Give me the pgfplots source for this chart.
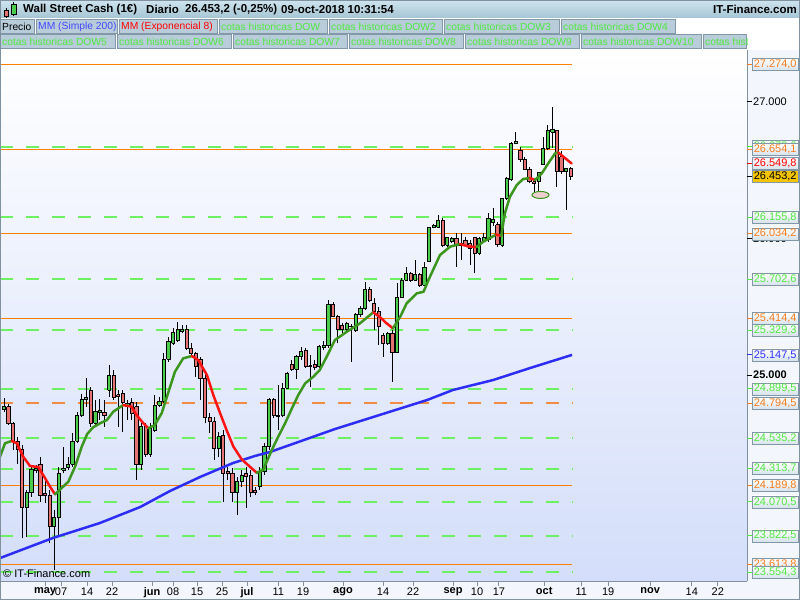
\documentclass[border=0pt]{standalone}
\usepackage{fontspec}
\setmainfont{Liberation Sans}
\usepackage{pgfplots}
\usepackage{pgfplotstable}
\pgfplotsset{compat=1.18}

\definecolor{candleup}{RGB}{76,204,76}
\definecolor{candledn}{RGB}{230,115,115}
\definecolor{emaup}{RGB}{60,150,30}
\definecolor{emadn}{RGB}{255,20,20}
\definecolor{smablue}{RGB}{45,45,245}
\definecolor{cotagreen}{RGB}{110,240,100}
\definecolor{cotaorange}{RGB}{255,128,0}
\definecolor{dashorange}{RGB}{240,140,70}
\definecolor{txtgreen}{RGB}{80,232,64}
\definecolor{txtorange}{RGB}{245,125,30}
\definecolor{txtred}{RGB}{255,0,0}
\definecolor{txtblue}{RGB}{50,50,255}
\definecolor{legblue}{RGB}{70,70,255}
\definecolor{framegray}{RGB}{128,146,160}
\definecolor{cellbg}{RGB}{184,205,217}
\definecolor{cellborder}{RGB}{130,152,168}
\definecolor{plotbottom}{RGB}{212,222,250}
\definecolor{panelbg}{RGB}{243,246,252}
\definecolor{pricebox}{RGB}{245,196,0}
\definecolor{boxbot}{RGB}{214,226,236}
\definecolor{titletop}{RGB}{206,228,238}
\definecolor{titlebot}{RGB}{166,197,212}
\definecolor{ellfill}{RGB}{236,206,206}

% daily candles, k = weekday index (k=9 is 1 May 2018)
\pgfplotstableread{
k O H L C
0 24748 24829 24731 24773
1 24768 24787 24634 24646
2 24646 24658 24450 24511
3 24511 24548 24348 24455
4 24455 24487 23803 24030
5 24030 24157 23815 24138
6 24138 24328 24108 24309
7 24299 24341 24279 24314
8 24345 24402 24072 24121
9 24133 24231 24060 24118
10 24121 24157 23767 23889
11 23889 24011 23570 23957
12 23957 24328 23815 24275
13 24304 24475 24279 24316
14 24321 24402 24304 24345
15 24345 24573 24328 24516
16 24516 24731 24499 24707
17 24707 24861 24695 24822
18 24817 24980 24768 24836
19 24890 24915 24621 24646
20 24646 24817 24634 24731
21 24729 24822 24670 24739
22 24729 24817 24621 24704
23 24890 25073 24841 25000
24 25000 25036 24817 24836
25 24856 24890 24621 24841
26 24861 24890 24585 24797
27 24768 24817 24670 24792
28 24797 24829 24670 24719
29 24768 24805 24231 24341
30 24341 24646 24304 24621
31 24621 24646 24402 24421
32 24421 24646 24402 24609
33 24597 24853 24585 24780
34 24780 24841 24768 24809
35 24805 25159 24792 25115
36 25115 25281 25098 25244
37 25232 25342 25220 25310
38 25256 25391 25244 25330
39 25317 25366 25305 25330
40 25330 25366 25183 25195
41 25195 25232 25134 25154
42 25154 25171 24988 25061
43 25110 25134 24817 24975
44 24975 25012 24646 24690
45 24690 24719 24573 24663
46 24658 24695 24377 24463
47 24463 24585 24402 24553
48 24560 24597 24072 24275
49 24292 24328 24231 24275
50 24279 24316 24072 24138
51 24138 24255 23974 24218
52 24218 24304 24182 24267
53 24279 24328 24023 24255
54 24267 24304 24108 24138
55 24157 24182 24121 24138
56 24182 24328 24157 24292
57 24292 24499 24267 24475
58 24475 24829 24450 24817
59 24817 24829 24683 24700
60 24695 24927 24597 24707
61 24700 24939 24690 24902
62 24902 25024 24902 25012
63 25078 25110 25032 25042
64 25042 25147 24968 25139
65 25139 25208 25110 25171
66 25176 25195 25049 25061
67 25068 25146 24914 25061
68 25078 25110 25036 25056
69 25061 25220 25049 25208
70 25200 25250 25185 25215
71 25215 25549 25195 25520
72 25520 25537 25422 25432
73 25432 25440 25232 25330
74 25366 25379 25305 25334
75 25334 25391 25325 25374
76 25354 25374 25098 25359
77 25325 25452 25317 25440
78 25440 25506 25427 25488
79 25488 25684 25476 25623
80 25623 25642 25537 25549
81 25525 25562 25330 25464
82 25464 25501 25220 25354
83 25293 25305 25134 25232
84 25232 25317 25220 25305
85 25305 25330 24951 25164
86 25164 25672 25159 25569
87 25569 25708 25562 25696
88 25696 25794 25691 25745
89 25745 25757 25684 25696
90 25696 25842 25691 25733
91 25733 25745 25647 25659
92 25659 25830 25652 25789
93 25830 26087 25830 26082
94 26082 26106 26075 26092
95 26082 26172 26075 26131
96 26131 26148 25940 25952
97 25952 26013 25940 26008
98 25977 26013 25965 26001
99 26001 26038 25794 25952
100 25952 26038 25842 25965
101 25989 26013 25940 25952
102 25965 25989 25806 25928
103 26008 26013 25745 25891
104 25891 26013 25879 26001
105 25977 26038 25970 26010
106 25994 26184 25977 26148
107 26120 26221 26095 26140
108 26099 26123 25940 25953
109 25952 26300 25940 26294
110 26294 26450 26285 26436
111 26429 26710 26420 26697
112 26697 26783 26692 26714
113 26648 26673 26563 26580
114 26580 26600 26502 26507
115 26507 26526 26404 26416
116 26416 26430 26343 26400
117 26416 26490 26343 26482
118 26539 26746 26539 26661
119 26661 26832 26648 26790
120 26778 26961 26660 26795
121 26790 26795 26380 26490
122 26600 26640 26470 26490
123 26490 26520 26209 26514
124 26514 26526 26429 26453
}\candles

\newcommand{\legcell}[5]{%
  \begin{scope}
    \clip (#1,#3-15) rectangle (#2,#3);
    \fill[cellbg] (#1,#3-15) rectangle (#2,#3);
    \draw[cellborder] (#1+0.5,#3-14.5) rectangle (#2-0.5,#3-0.5);
    \node[anchor=west, inner sep=0pt, text=#4, font=\fontsize{10.3}{12}\selectfont] at (#1+2,#3-7.5) {#5};
  \end{scope}}

\newcommand{\pricelabel}[3]{%
  \draw[#2, line width=1pt] (axis cs:162.58,#1) -- ++(5pt,0pt);
  \node[anchor=west, draw=cellborder, top color=white, bottom color=boxbot, text=#2,
    minimum width=46pt, minimum height=12pt, inner sep=0pt,
    font=\fontsize{11}{12}\selectfont] at ([xshift=5pt]axis cs:162.58,#1) {#3};}

\begin{document}
\begin{tikzpicture}[x=1pt, y=1pt]
\useasboundingbox (0,0) rectangle (800,600);
\fill[panelbg] (0,0) rectangle (800,600);

% title bar
\shade[top color=titletop, bottom color=titlebot] (0,582) rectangle (800,600);
\draw[framegray] (0,582) -- (800,582);
\draw[black, line width=0.8pt] (6,581) -- (6,592);
\fill[candledn, draw=black, line width=0.6pt] (4,583.5) rectangle (8.5,590);
\draw[black, line width=0.8pt] (13.5,584) -- (13.5,598);
\fill[candleup, draw=black, line width=0.6pt] (11.5,586) rectangle (16,596);
\begin{scope}[every node/.style={anchor=west, inner sep=0pt, font=\fontsize{11.5}{13}\selectfont\bfseries}]
  \node at (23,590.5) {Wall Street Cash (1€)};
  \node at (146,590.5) {Diario};
  \node at (185,590.5) {26.453,2 (-0,25\%)};
  \node at (281,590.5) {09-oct-2018 10:31:54};
  \node[anchor=east] at (797,590.5) {IT-Finance.com};
\end{scope}

% legend rows
\fill[white] (0,550) rectangle (800,582);
\legcell{0}{35}{581}{black}{Precio}
\legcell{36}{118}{581}{legblue}{MM (Simple 200)}
\legcell{119}{218}{581}{txtred}{MM (Exponencial 8)}
\legcell{219}{328}{581}{txtgreen}{cotas historicas DOW}
\legcell{329}{443}{581}{txtgreen}{cotas historicas DOW2}
\legcell{444}{560}{581}{txtgreen}{cotas historicas DOW3}
\legcell{561}{676}{581}{txtgreen}{cotas historicas DOW4}
\legcell{0}{116}{566}{txtgreen}{cotas historicas DOW5}
\legcell{117}{232}{566}{txtgreen}{cotas historicas DOW6}
\legcell{233}{348}{566}{txtgreen}{cotas historicas DOW7}
\legcell{349}{464}{566}{txtgreen}{cotas historicas DOW8}
\legcell{465}{580}{566}{txtgreen}{cotas historicas DOW9}
\legcell{581}{702}{566}{txtgreen}{cotas historicas DOW10}
\legcell{703}{747}{566}{txtgreen}{cotas historicas DOW11}

\begin{axis}[
  at={(0pt,19pt)}, anchor=south west,
  scale only axis, width=747pt, height=531pt,
  xmin=-0.88, xmax=162.58, ymin=23491, ymax=27381,
  clip=false,
  axis background/.style={top color=white, bottom color=plotbottom},
  axis x line*=bottom, axis y line*=right,
  axis line style={framegray, line width=1pt},
  ytick=\empty,
  xtick={8.97,12.47,18.16,23.63,32.39,36.98,42.23,47.7,53.17,60,65.43,74.18,82.93,89.5,98.25,103.5,108.3,118.2,126.3,132.2,141.4,150.5,156.2},
  xticklabels={\textbf{may},07,14,22,\textbf{jun},08,15,25,\textbf{jul},11,19,\textbf{ago},14,22,\textbf{sep},10,17,\textbf{oct},11,19,\textbf{nov},14,22},
  xtick align=outside, major tick length=5pt,
  x tick style={framegray, line width=1pt},
  xticklabel style={font=\fontsize{11}{13}\selectfont, inner sep=1.5pt},
]

% historical levels
\addplot[cotagreen, line width=2pt, dash pattern=on 13pt off 13pt] coordinates {(-0.88,26673.6) (124.3,26673.6)};
\addplot[cotagreen, line width=2pt, dash pattern=on 13pt off 13pt] coordinates {(-0.88,26155.8) (124.3,26155.8)};
\addplot[cotagreen, line width=2pt, dash pattern=on 13pt off 13pt] coordinates {(-0.88,25702.6) (124.3,25702.6)};
\addplot[cotagreen, line width=2pt, dash pattern=on 13pt off 13pt] coordinates {(-0.88,25329.3) (124.3,25329.3)};
\addplot[cotagreen, line width=2pt, dash pattern=on 13pt off 13pt] coordinates {(-0.88,24899.5) (124.3,24899.5)};
\addplot[cotagreen, line width=2pt, dash pattern=on 13pt off 13pt] coordinates {(-0.88,24535.2) (124.3,24535.2)};
\addplot[cotagreen, line width=2pt, dash pattern=on 13pt off 13pt] coordinates {(-0.88,24313.7) (124.3,24313.7)};
\addplot[cotagreen, line width=2pt, dash pattern=on 13pt off 13pt] coordinates {(-0.88,24070.5) (124.3,24070.5)};
\addplot[cotagreen, line width=2pt, dash pattern=on 13pt off 13pt] coordinates {(-0.88,23822.5) (124.3,23822.5)};
\addplot[cotagreen, line width=2pt, dash pattern=on 13pt off 13pt] coordinates {(-0.88,23554.3) (124.3,23554.3)};
\addplot[dashorange, line width=2pt, dash pattern=on 13pt off 13pt] coordinates {(-0.88,24794.5) (124.3,24794.5)};
\addplot[cotaorange, line width=1.15pt] coordinates {(-0.88,27274.0) (124.3,27274.0)};
\addplot[cotaorange, line width=1.15pt] coordinates {(-0.88,26654.1) (124.3,26654.1)};
\addplot[cotaorange, line width=1.15pt] coordinates {(-0.88,26034.2) (124.3,26034.2)};
\addplot[cotaorange, line width=1.15pt] coordinates {(-0.88,25414.4) (124.3,25414.4)};
\addplot[cotaorange, line width=1.15pt] coordinates {(-0.88,24189.8) (124.3,24189.8)};
\addplot[cotaorange, line width=1.15pt] coordinates {(-0.88,23613.8) (124.3,23613.8)};

% candles
\pgfplotstablegetrowsof{\candles}
\pgfmathtruncatemacro{\lastrow}{\pgfplotsretval-1}
\pgfplotsforeachungrouped \i in {0,...,\lastrow}{%
  \pgfplotstablegetelem{\i}{k}\of\candles \let\ck=\pgfplotsretval
  \pgfplotstablegetelem{\i}{O}\of\candles \let\co=\pgfplotsretval
  \pgfplotstablegetelem{\i}{H}\of\candles \let\ch=\pgfplotsretval
  \pgfplotstablegetelem{\i}{L}\of\candles \let\cl=\pgfplotsretval
  \pgfplotstablegetelem{\i}{C}\of\candles \let\cc=\pgfplotsretval
  \pgfmathsetmacro{\xa}{\ck-0.35}%
  \pgfmathsetmacro{\xb}{\ck+0.35}%
  \ifnum\cc<\co\relax \def\cfill{candledn}\else \def\cfill{candleup}\fi
  \edef\temp{%
    \noexpand\addplot[black, line width=1pt] coordinates {(\ck,\cl) (\ck,\ch)};
    \noexpand\addplot[draw=black, fill=\cfill, line width=1pt, line join=miter] coordinates {(\xa,\co) (\xb,\co) (\xb,\cc) (\xa,\cc) (\xa,\co)};
  }%
  \temp
}

% MM simple 200
\addplot[smablue, line width=2.5pt, line join=round] coordinates {
(-0.88,23659) (10.7,23806) (21,23916) (29.8,24033) (36.3,24150) (42.9,24253) (50.1,24355)
(54.9,24407) (58.2,24436) (72.4,24604) (92.6,24817) (98.2,24890) (107,24963) (115.1,25051) (124.3,25147.5)};

% MM exponencial 8 (green rising, red falling)
\addplot[emaup, line width=2.5pt, line join=round, line cap=round] coordinates {(-0.88,24401) (0.22,24500) (1.68,24517)};
\addplot[emadn, line width=2.5pt, line join=round, line cap=round] coordinates {(1.68,24517) (2.78,24500) (4.22,24401) (5.69,24333) (7.5,24326) (8.97,24245) (10.07,24182) (11.16,24126)};
\addplot[emaup, line width=2.5pt, line join=round, line cap=round] coordinates {(11.16,24126) (12.6,24172) (14.07,24218) (15.54,24328) (17,24475) (18.2,24568) (19.5,24617) (21,24646) (22.5,24670) (23.9,24731) (26.1,24780)};
\addplot[emadn, line width=2.5pt, line join=round, line cap=round] coordinates {(26.1,24780) (27.9,24768) (29,24707) (30.5,24646) (31.6,24610)};
\addplot[emaup, line width=2.5pt, line join=round, line cap=round] coordinates {(31.6,24610) (33,24634) (34.5,24720) (36,24878) (37.4,25024) (39.2,25122) (41.1,25139)};
\addplot[emadn, line width=2.5pt, line join=round, line cap=round] coordinates {(41.1,25139) (42.5,25110) (44.4,25000) (45.8,24853) (47.3,24719) (48.7,24597) (50.2,24475) (52,24383) (53.8,24328) (55.3,24284)};
\addplot[emaup, line width=2.5pt, line join=round, line cap=round] coordinates {(55.3,24284) (56.7,24304) (58.6,24451) (60,24548) (61.5,24646) (63,24756) (64.4,24854) (65.9,24939) (67.7,24988) (69.1,25037) (70.6,25134) (72.4,25256) (75,25317) (77.9,25379) (80.8,25459)};
\addplot[emadn, line width=2.5pt, line join=round, line cap=round] coordinates {(80.8,25459) (82.3,25423) (83.7,25379) (85.1,25342)};
\addplot[emaup, line width=2.5pt, line join=round, line cap=round] coordinates {(85.1,25342) (86.7,25427) (88.1,25525) (90.3,25598) (91.8,25610) (93.2,25720) (95.4,25879) (97.6,25940) (99.8,25960)};
\addplot[emadn, line width=2.5pt, line join=round, line cap=round] coordinates {(99.8,25960) (101.5,25942) (103.4,25938)};
\addplot[emaup, line width=2.5pt, line join=round, line cap=round] coordinates {(103.4,25938) (104.9,25977) (107.7,26029)};
\addplot[emadn, line width=2.5pt, line join=round, line cap=round] coordinates {(107.7,26029) (108.8,26020)};
\addplot[emaup, line width=2.5pt, line join=round, line cap=round] coordinates {(108.8,26020) (109.6,26185) (110.7,26306) (112.2,26392) (113.6,26436) (115.1,26443)};
\addplot[emadn, line width=2.5pt, line join=round, line cap=round] coordinates {(115.1,26443) (116.2,26429)};
\addplot[emaup, line width=2.5pt, line join=round, line cap=round] coordinates {(116.2,26429) (117.7,26478) (119.1,26551) (120.6,26624) (121.3,26629)};
\addplot[emadn, line width=2.5pt, line join=round, line cap=round] coordinates {(121.3,26629) (122.8,26588) (124.2,26549.8)};

% annotation
\draw[emaup, fill=ellfill, line width=1pt] (axis cs:117.4,26319) ellipse [x radius=8.5pt, y radius=3.5pt];

% right scale
\draw[black, line width=1pt] (axis cs:162.58,27000) -- ++(5pt,0pt);
\node[anchor=west, inner sep=0pt, font=\fontsize{11}{12}\selectfont] at ([xshift=6pt]axis cs:162.58,27000) {27.000};
\draw[black, line width=1pt] (axis cs:162.58,26000) -- ++(5pt,0pt);
\node[anchor=west, inner sep=0pt, font=\fontsize{11}{12}\selectfont] at ([xshift=6pt]axis cs:162.58,26000) {26.000};
\draw[black, line width=1pt] (axis cs:162.58,25000) -- ++(5pt,0pt);
\node[anchor=west, inner sep=0pt, font=\fontsize{11}{12}\selectfont\bfseries] at ([xshift=6pt]axis cs:162.58,25000) {25.000};

\pricelabel{26673.6}{txtgreen}{26.673,6}
\pricelabel{26155.8}{txtgreen}{26.155,8}
\pricelabel{25702.6}{txtgreen}{25.702,6}
\pricelabel{25329.3}{txtgreen}{25.329,3}
\pricelabel{24899.5}{txtgreen}{24.899,5}
\pricelabel{24535.2}{txtgreen}{24.535,2}
\pricelabel{24313.7}{txtgreen}{24.313,7}
\pricelabel{24070.5}{txtgreen}{24.070,5}
\pricelabel{23822.5}{txtgreen}{23.822,5}
\pricelabel{27274.0}{txtorange}{27.274,0}
\pricelabel{26654.1}{txtorange}{26.654,1}
\pricelabel{26034.2}{txtorange}{26.034,2}
\pricelabel{25414.4}{txtorange}{25.414,4}
\pricelabel{24794.5}{txtorange}{24.794,5}
\pricelabel{24189.8}{txtorange}{24.189,8}
\pricelabel{23613.8}{txtorange}{23.613,8}
\pricelabel{23554.3}{txtgreen}{23.554,3}
\pricelabel{25147.5}{txtblue}{25.147,5}
\pricelabel{26549.8}{txtred}{26.549,8}
\draw[black, line width=1pt] (axis cs:162.58,26453.2) -- ++(5pt,0pt);
\node[anchor=west, draw=cellborder, fill=pricebox, text=black, minimum width=46pt, minimum height=12pt,
  inner sep=0pt, font=\fontsize{11}{12}\selectfont] at ([xshift=5pt]axis cs:162.58,26453.2) {26.453,2};
\end{axis}

\node[anchor=west, inner sep=0pt, font=\fontsize{11}{13}\selectfont] at (3,26) {© IT-Finance.com};
\draw[framegray] (0.5,0.5) rectangle (799.5,599.5);
\end{tikzpicture}
\end{document}
